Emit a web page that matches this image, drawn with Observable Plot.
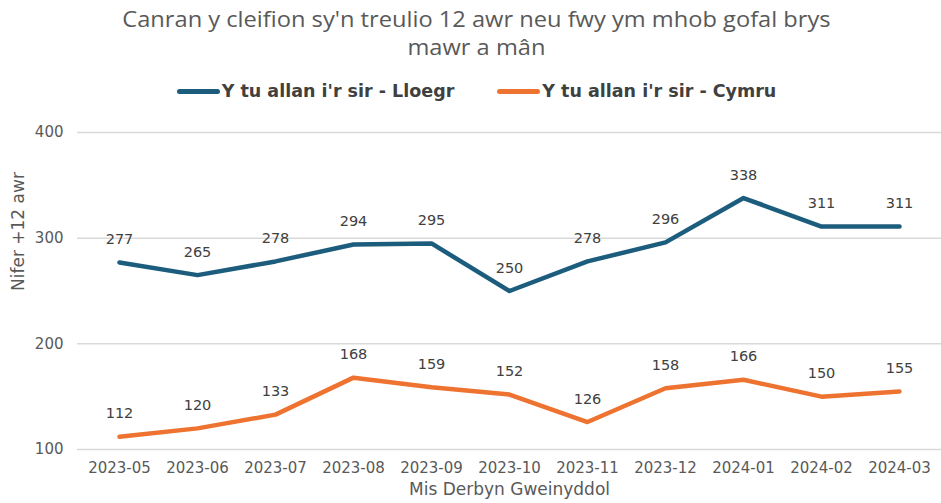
<!DOCTYPE html>
<html>
<head>
<meta charset="utf-8">
<script src="https://cdn.jsdelivr.net/npm/d3@7"></script>
<script src="https://cdn.jsdelivr.net/npm/@observablehq/plot@0.6"></script>
<style>
  html, body { margin: 0; padding: 0; background: #fff; }
  #wrap { width: 941px; height: 503px; position: relative; overflow: hidden; }
  #title { position: absolute; left: 6px; top: 5px; width: 941px; text-align: center;
    font-family: "Open Sans", sans-serif; font-size: 21.5px; line-height: 27.5px; color: #595959;
    transform: scaleX(1.1); transform-origin: 471px 0; }
  #legend { position: absolute; left: 6px; top: 80px; width: 941px; height: 22px; display: flex;
    justify-content: center; align-items: center; gap: 43px;
    font-family: "DejaVu Sans", sans-serif; font-weight: bold; font-size: 17.5px; color: #404040; }
  .item { display: flex; align-items: center; }
  .sw { width: 43px; height: 5px; border-radius: 3px; margin-right: 2px; }
  #chart { position: absolute; left: 0; top: 108px; }
</style>
</head>
<body>
<div id="wrap">
  <div id="title">Canran y cleifion sy'n treulio 12 awr neu fwy ym mhob gofal brys<br>mawr a mân</div>
  <div id="legend"></div>
  <div id="chart"></div>
</div>
<script>
const months = ["2023-05","2023-06","2023-07","2023-08","2023-09","2023-10","2023-11","2023-12","2024-01","2024-02","2024-03"];
const lloegr = [277,265,278,294,295,250,278,296,338,311,311];
const cymru = [112,120,133,168,159,152,126,158,166,150,155];
const seriesNames = ["Y tu allan i'r sir - Lloegr", "Y tu allan i'r sir - Cymru"];
const seriesColors = ["#1c5d7e", "#ee7330"];
const yTicks = [100, 200, 300, 400];
const yLabel = "Nifer +12 awr";
const xLabel = "Mis Derbyn Gweinyddol";

const rows = [];
months.forEach((m, i) => {
  rows.push({month: m, value: lloegr[i], series: seriesNames[0]});
  rows.push({month: m, value: cymru[i], series: seriesNames[1]});
});

const legend = document.getElementById("legend");
seriesNames.forEach((n, i) => {
  const it = document.createElement("div");
  it.className = "item";
  it.innerHTML = `<span class="sw" style="background:${seriesColors[i]}"></span><span>${n}</span>`;
  legend.appendChild(it);
});

const font = "DejaVu Sans, Verdana, sans-serif";
const chart = Plot.plot({
  width: 941,
  height: 395,
  marginLeft: 77,
  marginRight: 0,
  marginTop: 24,
  marginBottom: 54,
  style: {fontFamily: font, fontSize: "14px", color: "#595959", background: "transparent"},
  x: {type: "point", domain: months, padding: 0.5},
  y: {domain: [100, 400]},
  color: {domain: seriesNames, range: seriesColors},
  marks: [
    Plot.gridY(yTicks, {stroke: "#d9d9d9", strokeOpacity: 1, strokeWidth: 1.5}),
    Plot.axisY({ticks: yTicks, tickSize: 0, tickPadding: 14, label: null, fontSize: 15, fill: "#595959"}),
    Plot.axisX({tickSize: 0, tickPadding: 13, label: null, fontSize: 15, fill: "#595959"}),
    Plot.lineY(rows, {x: "month", y: "value", z: "series", stroke: "series", strokeWidth: 4.5, strokeLinejoin: "round", strokeLinecap: "round"}),
    Plot.text(rows, {x: "month", y: "value", text: d => String(d.value), dy: -23, fill: "#404040", fontSize: 14.5}),
    Plot.text([yLabel], {frameAnchor: "left", rotate: -90, dx: -59, fill: "#595959", fontSize: 17}),
    Plot.text([xLabel], {frameAnchor: "bottom", dy: 45, fill: "#595959", fontSize: 17})
  ]
});
document.getElementById("chart").appendChild(chart);
</script>
</body>
</html>
